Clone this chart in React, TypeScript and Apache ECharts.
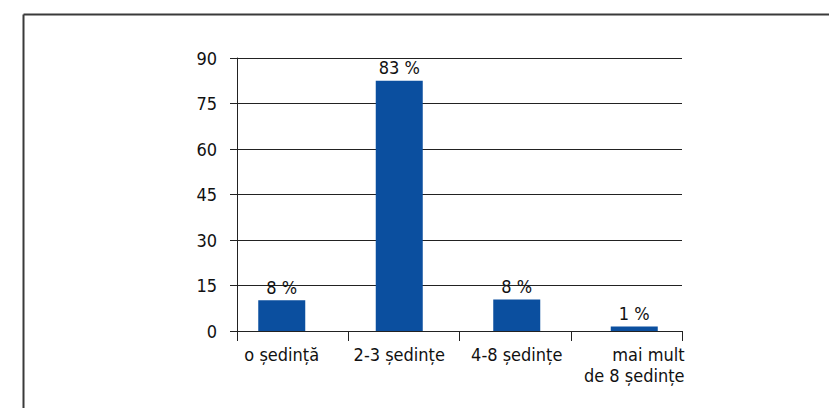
import React, { useEffect, useRef } from "react";
import * as echarts from "echarts";

const categories = ["o ședință", "2-3 ședințe", "4-8 ședințe", "mai mult\nde 8 ședințe"];
const barValues = [10.1, 82.5, 10.4, 1.5];
const barLabels = ["8 %", "83 %", "8 %", "1 %"];
const yTicks = [0, 15, 30, 45, 60, 75, 90];

const FONT = "'DejaVu Sans Condensed', 'Liberation Sans', sans-serif";
const FS = 18;

export default function App() {
  const ref = useRef<HTMLDivElement>(null);
  useEffect(() => {
    if (!ref.current) return;
    const chart = echarts.init(ref.current, undefined, { renderer: "svg" });
    const top = 58;
    const bottom = 408 - 331;
    chart.setOption({
      animation: false,
      backgroundColor: "#ffffff",
      grid: [
        { left: 237, right: 829 - 682, top, bottom },
        { left: 223, right: 829 - 693, top, bottom },
      ],
      xAxis: [
        {
          type: "category",
          gridIndex: 0,
          data: categories,
          boundaryGap: true,
          axisLine: { show: true, lineStyle: { color: "#222", width: 1 } },
          axisTick: { show: true, length: 10, lineStyle: { color: "#222" } },
          axisLabel: { show: false },
        },
        {
          type: "category",
          gridIndex: 1,
          data: categories,
          boundaryGap: true,
          axisLine: { show: false },
          axisTick: { show: false },
          axisLabel: {
            show: true,
            interval: 0,
            margin: 13,
            color: "#111",
            fontFamily: FONT,
            fontSize: FS,
            lineHeight: 21,
            formatter: (v: string) =>
              v.includes("\n")
                ? v.split("\n").map((l) => `{r|${l}}`).join("\n")
                : `{n|${v}}`,
            rich: {
              r: { align: "right", fontFamily: FONT, fontSize: FS, lineHeight: 21, color: "#111" },
              n: { fontFamily: FONT, fontSize: FS, lineHeight: 21, color: "#111" },
            },
          },
        },
      ],
      yAxis: [
        {
          type: "value",
          gridIndex: 0,
          min: yTicks[0],
          max: yTicks[yTicks.length - 1],
          interval: yTicks[1] - yTicks[0],
          axisLine: { show: true, lineStyle: { color: "#222", width: 1 } },
          axisTick: { show: true, length: 7, lineStyle: { color: "#222" } },
          splitLine: { show: true, lineStyle: { color: "#222", width: 1 } },
          axisLabel: { margin: 20, color: "#111", fontFamily: FONT, fontSize: FS },
        },
        {
          type: "value",
          gridIndex: 1,
          min: yTicks[0],
          max: yTicks[yTicks.length - 1],
          interval: yTicks[1] - yTicks[0],
          show: false,
        },
      ],
      series: [
        {
          type: "bar",
          xAxisIndex: 1,
          yAxisIndex: 1,
          data: barValues,
          barWidth: 47,
          itemStyle: { color: "#0B4F9F" },
          label: {
            show: true,
            position: "top",
            distance: 4,
            color: "#111",
            fontFamily: FONT,
            fontSize: FS,
            formatter: (p: any) => barLabels[p.dataIndex],
          },
        },
      ],
      graphic: [
        {
          type: "line",
          shape: { x1: 23.5, y1: 14.5, x2: 840, y2: 14.5 },
          style: { stroke: "#3a3a3a", lineWidth: 2 },
          silent: true,
        },
        {
          type: "line",
          shape: { x1: 23.5, y1: 14.5, x2: 23.5, y2: 420 },
          style: { stroke: "#3a3a3a", lineWidth: 2 },
          silent: true,
        },
      ],
    });
    return () => chart.dispose();
  }, []);
  return (
    <div
      ref={ref}
      style={{ position: "fixed", left: 0, top: 0, width: 829, height: 408, background: "#fff" }}
    />
  );
}
